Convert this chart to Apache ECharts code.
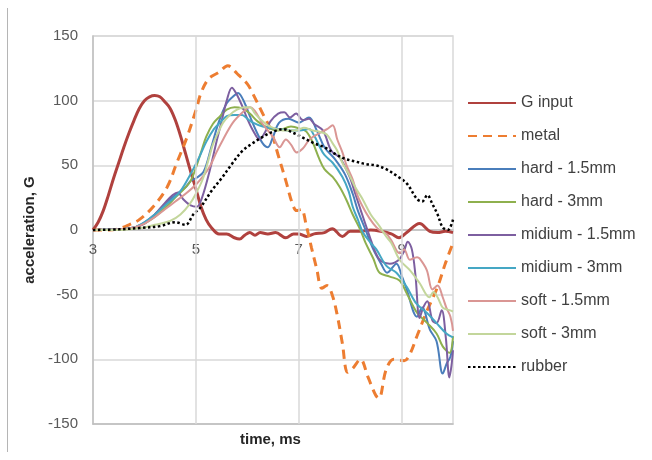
<!DOCTYPE html>
<html>
<head>
<meta charset="utf-8">
<title>acceleration vs time</title>
<script src="https://cdn.jsdelivr.net/npm/echarts@6/dist/echarts.min.js"></script>
<style>
    html, body { margin: 0; padding: 0; background: #fff; }
    #main { width: 652px; height: 460px; }
</style>
</head>
<body>
<div id="main"></div>
<script>
    // [time ms, acceleration G]
    const gInput = [[3,0],[3.1,6],[3.2,15],[3.3,27],[3.4,40],[3.5,52],[3.6,64],[3.7,75],[3.8,85],[3.9,94],[4.0,100],[4.1,103],[4.2,104],[4.3,103],[4.4,99],[4.5,94],[4.6,85],[4.7,73],[4.8,59],[4.9,45],[5.0,32],[5.1,18],[5.2,8],[5.3,2],[5.45,-3],[5.6,-3],[5.75,-6],[5.85,-7],[5.95,-4],[6.05,-2],[6.15,-4],[6.25,-2],[6.4,-3],[6.55,-2],[6.75,-6],[6.9,-3],[7.0,-3],[7.15,-5],[7.3,-3],[7.5,-2],[7.65,1],[7.85,-5],[8.0,-1],[8.2,-1],[8.4,0],[8.6,-1],[8.8,-3],[8.95,-6],[9.1,-2],[9.35,5],[9.55,-1],[9.7,-2],[9.85,-1],[10,-2]];
    const metal = [[3,0],[3.3,0],[3.5,1],[3.7,4],[3.9,8],[4.17,18],[4.44,33],[4.63,52],[4.83,72],[5.02,95],[5.1,106],[5.25,117],[5.45,122],[5.62,127],[5.8,121],[6.0,113],[6.1,106],[6.3,90],[6.45,78],[6.6,58],[6.75,38],[6.88,20],[6.96,15],[7.05,16],[7.15,3],[7.25,-14],[7.35,-30],[7.45,-45],[7.55,-43],[7.65,-50],[7.75,-66],[7.85,-88],[7.95,-110],[8.05,-107],[8.2,-100],[8.35,-114],[8.5,-128],[8.56,-130],[8.7,-108],[8.85,-100],[9.05,-101],[9.15,-97],[9.3,-82],[9.5,-62],[9.7,-44],[9.85,-26],[10,-10]];
    const hard15 = [[3,0],[3.5,0.5],[3.8,2],[4.0,6],[4.2,12],[4.4,20],[4.6,27],[4.8,33],[4.9,38],[5.0,40],[5.15,45],[5.3,64],[5.45,84],[5.6,98],[5.72,103],[5.82,106],[5.95,98],[6.05,88],[6.18,76],[6.3,67],[6.4,64],[6.5,72],[6.62,83],[6.8,86],[7.0,83],[7.2,87],[7.35,77],[7.5,64],[7.7,55],[7.9,43],[8.05,28],[8.15,15],[8.3,0],[8.45,-15],[8.6,-26],[8.72,-33],[8.9,-26],[9.0,-35],[9.1,-46],[9.3,-67],[9.4,-60],[9.55,-77],[9.68,-86],[9.8,-111],[9.88,-103],[9.95,-98],[10,-86]];
    const hard3 = [[3,0],[3.5,0.5],[3.8,2],[4.0,5],[4.2,10],[4.4,17],[4.6,25],[4.8,33],[4.9,38],[5.0,48],[5.1,60],[5.2,72],[5.33,82],[5.47,88],[5.6,93],[5.75,95],[5.9,94],[6.05,90],[6.2,84],[6.4,79],[6.6,77],[6.85,80],[7.05,78],[7.15,76],[7.27,68],[7.4,55],[7.5,47],[7.66,41],[7.8,33],[7.93,23],[8.05,12],[8.2,0],[8.3,-10],[8.45,-22],[8.57,-33],[8.77,-36],[8.96,-39],[9.1,-49],[9.3,-64],[9.5,-72],[9.68,-80],[9.8,-90],[9.93,-95],[10,-82]];
    const midium15 = [[3,0],[3.5,0.5],[3.8,2],[4.0,5],[4.2,12],[4.4,21],[4.55,27],[4.65,29],[4.75,24],[4.9,19],[5.02,18],[5.12,25],[5.27,46],[5.4,68],[5.5,84],[5.6,100],[5.7,110],[5.78,106],[5.9,96],[6.0,86],[6.11,77],[6.24,70],[6.35,76],[6.45,84],[6.6,90],[6.72,91],[6.83,87],[6.95,90],[7.08,85],[7.2,86],[7.3,82],[7.47,77],[7.6,64],[7.66,60],[7.8,56],[7.99,41],[8.1,28],[8.2,16],[8.38,-5],[8.5,-18],[8.6,-24],[8.77,-26],[8.95,-23],[9.05,-16],[9.12,-9],[9.2,-15],[9.27,-35],[9.35,-68],[9.42,-60],[9.5,-55],[9.6,-70],[9.68,-72],[9.78,-62],[9.86,-83],[9.93,-114],[9.97,-105],[10,-93]];
    const midium3 = [[3,0],[3.5,0.5],[3.8,2],[4.0,6],[4.2,12],[4.4,19],[4.55,24],[4.7,30],[4.88,42],[5.05,55],[5.2,68],[5.35,78],[5.47,83],[5.6,88],[5.75,89],[5.9,89],[6.0,86],[6.11,83],[6.3,80],[6.6,78],[6.8,77],[7.02,77],[7.2,78],[7.3,73],[7.4,65],[7.5,58],[7.66,52],[7.85,41],[7.97,30],[8.05,18],[8.15,8],[8.25,-2],[8.4,-10],[8.51,-15],[8.71,-28],[8.9,-33],[9.1,-44],[9.29,-57],[9.49,-64],[9.68,-72],[9.87,-80],[10,-83]];
    const soft15 = [[3,0],[3.5,0.5],[3.8,2],[4.0,5],[4.2,10],[4.4,16],[4.6,22],[4.8,28],[5.0,35],[5.15,42],[5.27,49],[5.4,60],[5.53,70],[5.72,83],[5.91,91],[6.05,95],[6.15,92],[6.3,82],[6.5,72],[6.63,64],[6.75,70],[6.85,66],[6.96,60],[7.08,63],[7.21,70],[7.41,75],[7.55,78],[7.66,81],[7.75,70],[7.85,60],[7.93,50],[8.05,39],[8.15,26],[8.3,14],[8.45,5],[8.57,0],[8.71,-3],[8.8,-8],[8.96,-18],[9.05,-15],[9.16,-23],[9.3,-21],[9.35,-22],[9.49,-31],[9.6,-46],[9.7,-43],[9.8,-52],[9.87,-60],[9.95,-67],[10,-78]];
    const soft3 = [[3,0],[3.5,0],[3.8,1],[4.0,2],[4.2,4],[4.5,7],[4.7,12],[4.88,20],[5.0,28],[5.14,40],[5.25,55],[5.33,66],[5.43,75],[5.53,83],[5.66,89],[5.8,93],[5.95,95],[6.05,95],[6.15,90],[6.3,84],[6.44,80],[6.69,77],[6.96,77],[7.1,79],[7.27,77],[7.4,76],[7.54,74],[7.66,67],[7.74,62],[7.85,52],[7.99,42],[8.1,33],[8.24,24],[8.4,12],[8.57,3],[8.7,-5],[8.8,-10],[8.96,-23],[9.16,-31],[9.35,-41],[9.54,-52],[9.62,-48],[9.7,-52],[9.8,-60],[9.93,-62],[10,-63]];
    const rubber = [[3,0],[3.5,0.5],[3.9,1.5],[4.3,3],[4.6,6],[4.8,4],[4.95,12],[5.1,18],[5.3,30],[5.5,40],[5.7,51],[5.9,61],[6.1,67],[6.3,72],[6.5,76],[6.7,78],[6.9,75],[7.1,71],[7.3,67],[7.5,64],[7.7,59],[7.9,55],[8.1,53],[8.3,51],[8.5,50],[8.7,47],[8.9,42],[9.1,36],[9.3,24],[9.4,22],[9.5,27],[9.6,20],[9.7,12],[9.8,2],[9.9,0],[10,8]];

    const names = ['G input', 'metal', 'hard - 1.5mm', 'hard - 3mm', 'midium - 1.5mm', 'midium - 3mm', 'soft - 1.5mm', 'soft - 3mm', 'rubber'];
    const xLabels = [3, 5, 7, 9];
    const xGridLines = [5, 7, 9];

    const FONT = '"Liberation Sans", Arial, sans-serif';

    function curve(name, data, color, width, type) {
        return {
            name: name,
            type: 'line',
            data: data,
            symbol: 'none',
            showSymbol: false,
            smooth: 0.35,
            lineStyle: { color: color, width: width, type: type || 'solid' },
            itemStyle: { color: color },
            z: 3
        };
    }

    const chart = echarts.init(document.getElementById('main'), null, { renderer: 'canvas' });

    chart.setOption({
        animation: false,
        backgroundColor: '#fff',
        textStyle: { fontFamily: FONT },
        grid: {
            left: 93, right: 199, top: 36, bottom: 36,
            show: true, borderColor: '#d9d9d9', borderWidth: 1.5
        },
        legend: {
            orient: 'vertical',
            left: 467, top: 95,
            padding: 0,
            itemWidth: 48, itemHeight: 14, itemGap: 17,
            data: names,
            itemStyle: { opacity: 0 },
            textStyle: { fontFamily: FONT, fontSize: 16, color: '#404040' }
        },
        xAxis: [
            {
                // frame axis at the bottom of the plot
                type: 'value',
                min: 3, max: 10, interval: 1,
                axisLine: { onZero: false, lineStyle: { color: '#bfbfbf', width: 1.5 } },
                axisTick: { show: false },
                splitLine: { show: false },
                axisLabel: { show: false }
            },
            {
                // labelled axis that sits on G = 0
                type: 'value',
                position: 'bottom',
                offset: -194,
                min: 3, max: 10, interval: 1,
                axisLine: { onZero: false, lineStyle: { color: '#bfbfbf', width: 1.5 } },
                axisTick: { show: false },
                splitLine: { show: false },
                axisLabel: {
                    margin: 12,
                    fontSize: 15, color: '#595959', fontFamily: FONT,
                    showMinLabel: true, showMaxLabel: false,
                    formatter: function (v) { return xLabels.indexOf(v) >= 0 ? String(v) : ''; }
                }
            }
        ],
        yAxis: {
            type: 'value',
            min: -150, max: 150, interval: 50,
            name: 'acceleration, G',
            nameLocation: 'middle',
            nameGap: 45,
            nameTextStyle: { fontSize: 15, fontWeight: 'bold', color: '#262626', fontFamily: FONT },
            axisLine: { show: true, onZero: false, lineStyle: { color: '#bfbfbf', width: 1.5 } },
            axisTick: { show: false },
            splitLine: { lineStyle: { color: '#d9d9d9', width: 1.5 } },
            axisLabel: { margin: 15, fontSize: 15, color: '#595959', fontFamily: FONT }
        },
        graphic: [
            {
                type: 'line', silent: true,
                shape: { x1: 7.5, y1: 8, x2: 7.5, y2: 452 },
                style: { stroke: '#b5b5b5', lineWidth: 1 }
            },
            {
                type: 'text', left: 240, top: 432, silent: true,
                style: { text: 'time, ms', font: 'bold 15px ' + FONT, fill: '#262626' }
            }
        ],
        series: [
            {
                name: 'grid',
                type: 'line',
                data: [],
                z: 1,
                markLine: {
                    silent: true,
                    symbol: ['none', 'none'],
                    label: { show: false },
                    lineStyle: { type: 'solid', color: '#d9d9d9', width: 1.5 },
                    data: xGridLines.map(function (x) { return { xAxis: x }; })
                }
            },
            curve('G input', gInput, '#B0413E', 3),
            curve('metal', metal, '#ED7D31', 3, [9, 6]),
            curve('hard - 1.5mm', hard15, '#4A7EBB', 2),
            curve('hard - 3mm', hard3, '#8EB04E', 2),
            curve('midium - 1.5mm', midium15, '#7D5FA0', 2),
            curve('midium - 3mm', midium3, '#45A7C4', 2),
            curve('soft - 1.5mm', soft15, '#DA9694', 2),
            curve('soft - 3mm', soft3, '#C3D69B', 2),
            curve('rubber', rubber, '#000000', 2.5, [2.5, 2.5])
        ]
    });
</script>
</body>
</html>
